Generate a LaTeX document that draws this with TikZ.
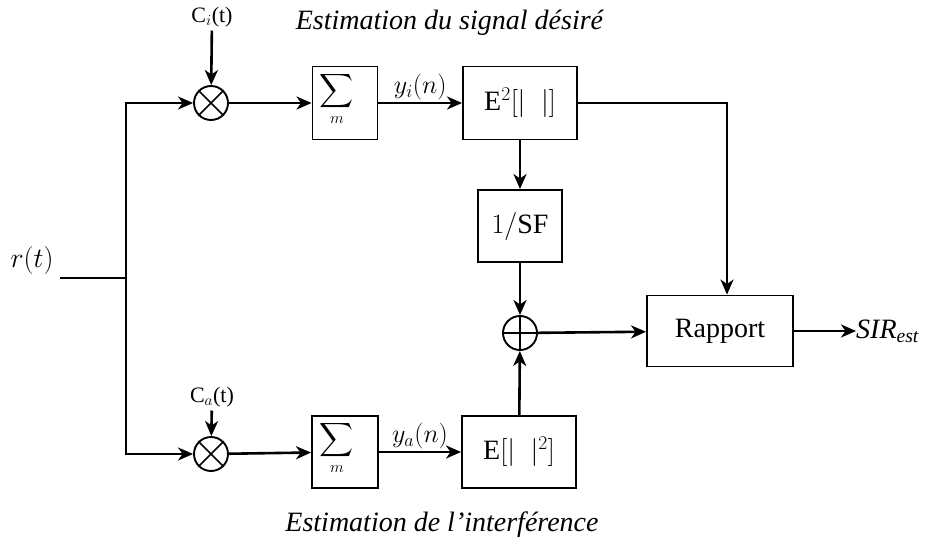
\RequirePackage{fix-cm}
\documentclass[tikz,border=0pt]{standalone}
\usepackage{amsmath}
\usepackage{exscale}
\usepackage{fontspec}
\setmainfont{Liberation Serif}
\newfontfamily\timesfont{Liberation Serif}
\usetikzlibrary{arrows.meta,calc,positioning}

\newcommand{\plotMixer}[2]
{
	\node[mixer](#1) at #2 {};
	\draw[line width=1.6pt] (#1.north west) -- (#1.south east);
	\draw[line width=1.6pt] (#1.north east) -- (#1.south west);
}
\newcommand{\plotAdder}[2]
{
	\node[mixer](#1) at #2 {};
	\draw[line width=1.6pt] (#1.north) -- (#1.south);
	\draw[line width=1.6pt] (#1.west) -- (#1.east);
}
\newcommand{\sumSymbol}{{\fontsize{24}{26}\selectfont\scalebox{0.95}{$\displaystyle\sum_{m}$}}}

\begin{document}
\begin{tikzpicture}[x=1pt,y=-1pt,>={Stealth[length=15pt,width=13pt,inset=4.5pt]},
	every node/.style={font=\timesfont\fontsize{28}{30}\selectfont},
	block/.style={draw,line width=1.9pt,inner sep=0pt},
	mixer/.style={draw,circle,line width=1.9pt,minimum size=34pt,inner sep=0pt},
	small/.style={font=\timesfont\fontsize{22}{24}\selectfont},
	math/.style={font=\timesfont\fontsize{26}{28}\selectfont},
	sig/.style={line width=2.6pt}]
\useasboundingbox (0,0) rectangle (925,548);

\node (rt) at (32,260) {$r(t)$};
\coordinate (in) at (60,278);
\coordinate (split) at (126,278);

\plotMixer{mulA}{(211,103)}
\plotMixer{mulB}{(211,454)}
\node[small] (ci) at (212,17) {C$_{i}$(t)};
\node[small] (ca) at (212,397) {C$_{a}$(t)};

\node[block,minimum width=65pt,minimum height=73pt] (sumA) at (345,103) {};
\node[inner sep=0pt] (sigA) at ([xshift=-8pt,yshift=4pt]sumA.center) {\sumSymbol};
\node[block,minimum width=66pt,minimum height=72pt] (sumB) at (345,452) {};
\node[inner sep=0pt] (sigB) at ([xshift=-8pt,yshift=4pt]sumB.center) {\sumSymbol};

\node[block,minimum width=114pt,minimum height=73pt] (eA) at (520,103) {$\mathrm{E}^{2}[|\;\;|]$};
\node[block,minimum width=84pt,minimum height=72pt] (inv) at (520,226) {$1/\mathrm{SF}$};
\plotAdder{add}{(520,333)}
\node[block,minimum width=114pt,minimum height=72pt] (eB) at (519,452) {$\mathrm{E}[|\;\;|^{2}]$};
\node[block,minimum width=146pt,minimum height=71pt] (ratio) at (720,331) {Rapport};
\node[anchor=west,inner sep=0pt] (sir) at (856,331) {\textit{SIR}$_{\textit{est}}$};

\node (titleA) at (450,23) {\textit{Estimation du signal désiré}};
\node (titleB) at (442,525) {\textit{Estimation de l’interférence}};

% entree et branches
\draw[sig] (in) -- (split);
\draw[sig,->] (split) |- (mulA);
\draw[sig,->] (split) |- (mulB);
\draw[sig,->] (ci) -- (mulA);
\draw[sig,->] (ca) -- (mulB);

% voie du signal desire
\draw[sig,->] (mulA) -- (sumA);
\draw[sig,->] (sumA) -- node[math,above,inner sep=2pt]{$y_{i}(n)$} (eA);
\draw[sig,->] (eA) -- (inv);
\draw[sig,->] (inv) -- (add);
\draw[sig,->] (eA) -| ([xshift=7pt]ratio.north);

% voie de l'interference
\draw[sig,->] (mulB) -- (sumB);
\draw[sig,->] (sumB) -- node[math,above,inner sep=2pt]{$y_{a}(n)$} (eB);
\draw[sig,->] (eB) -- (add);

\draw[sig,->] (add) -- (ratio);
\draw[sig,->] (ratio) -- (sir);
\end{tikzpicture}
\end{document}
